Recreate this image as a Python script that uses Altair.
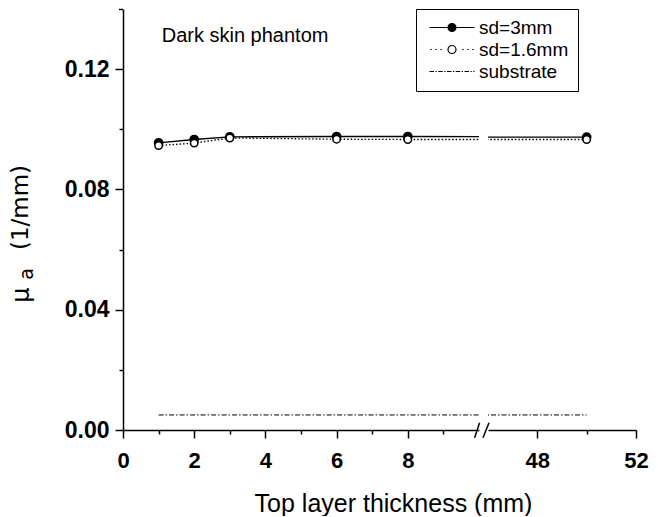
import altair as alt
import pandas as pd

# ---------------- data ----------------
thickness = [1, 2, 3, 6, 8, 50]
mua_sd3 = [0.0955, 0.0966, 0.0975, 0.0976, 0.0976, 0.0974]
mua_sd16 = [0.0946, 0.0954, 0.0971, 0.0967, 0.0966, 0.0966]
mua_substrate = [0.005, 0.005, 0.005, 0.005, 0.005, 0.005]

series_names = ["sd=3mm", "sd=1.6mm", "substrate"]

left_domain = [0, 10]
right_domain = [46, 52]
left_ticks = [0, 1, 2, 3, 4, 5, 6, 7, 8, 9]
right_ticks = [48, 50, 52]
y_ticks = [0.0, 0.02, 0.04, 0.06, 0.08, 0.10, 0.12]
y_domain = [0, 0.14]

x_title = "Top layer thickness (mm)"
annotation = "Dark skin phantom"

FONT = "Liberation Sans"
H = 421
W_LEFT = 356
W_RIGHT = 148

df = pd.DataFrame({"x": thickness, "sd3": mua_sd3, "sd16": mua_sd16, "sub": mua_substrate})
one = pd.DataFrame({"k": [0]})
legend_df = pd.DataFrame({"series": series_names, "x": [0, 0, 0], "v": [0, 0, 0]})

# legend symbols (unit = 5 px with symbolSize 100)
circle = "M4.3,0A0.8,0.8,0,1,1,2.7,0A0.8,0.8,0,1,1,4.3,0Z"
p_sd3 = "M-1,0H2.7M4.3,0H8" + circle
p_sd16 = "M-0.85,0H-0.55M0.15,0H0.45M1.15,0H1.45M5.55,0H5.85M6.55,0H6.85M7.55,0H7.85" + circle
p_sub = ""
pos = -1.0
while pos < 8:
    p_sub += "M%.2f,0H%.2f" % (pos, min(pos + 0.9, 8))
    dot = pos + 1.2
    if dot < 8:
        p_sub += "M%.2f,0H%.2f" % (dot, dot + 0.25)
    pos += 1.75

y_scale = alt.Scale(domain=y_domain, nice=False, zero=True)

common_axis = dict(
    domainColor="black", domainWidth=1.5, tickColor="black", tickWidth=1.5,
    labelFont=FONT, labelFontWeight="bold", labelColor="black", grid=False,
    labelFlush=False, labelOverlap=False,
)

y_axis = alt.Axis(
    values=y_ticks, format=".2f",
    labelExpr="round(datum.value*100) % 4 == 0 ? datum.label : ''",
    tickSize={"condition": {"test": "round(datum.value*100) % 4 == 0", "value": 8}, "value": 4},
    labelFontSize=23, labelPadding=6, title=None, **common_axis,
)

x_axis_left = alt.Axis(
    values=left_ticks,
    labelExpr="datum.value % 2 == 0 ? datum.label : ''",
    tickSize={"condition": {"test": "datum.value % 2 == 0", "value": 8}, "value": 4},
    labelFontSize=22, labelPadding=12,
    title=x_title, titleX=270, titleY=81, titleBaseline="alphabetic", titleAlign="center",
    titleFont=FONT, titleFontSize=25, titleFontWeight="normal", titleColor="black",
    **common_axis,
)

x_axis_right = alt.Axis(
    values=right_ticks,
    labelExpr="datum.value % 4 == 0 ? datum.label : ''",
    tickSize={"condition": {"test": "datum.value % 4 == 0", "value": 8}, "value": 4},
    labelFontSize=22, labelPadding=12, title=None,
    **common_axis,
)


def data_layers(xdomain, xaxis, yaxis):
    xs = alt.X("x:Q", scale=alt.Scale(domain=xdomain, nice=False, zero=False), axis=xaxis)
    base = alt.Chart(df)
    sub = base.mark_line(color="black", strokeWidth=1, strokeDash=[5, 2, 1.5, 2], clip=True).encode(
        x=xs, y=alt.Y("sub:Q", scale=y_scale, axis=yaxis))
    l3 = base.mark_line(color="black", strokeWidth=1.3, clip=True).encode(
        x=xs, y=alt.Y("sd3:Q", scale=y_scale, axis=yaxis))
    l16 = base.mark_line(color="black", strokeWidth=1.3, strokeDash=[1.5, 2], clip=True).encode(
        x=xs, y=alt.Y("sd16:Q", scale=y_scale, axis=yaxis))
    p3 = base.mark_point(shape="circle", filled=True, fill="black", stroke="black", size=60,
                         opacity=1, clip=True).encode(
        x=xs, y=alt.Y("sd3:Q", scale=y_scale, axis=yaxis))
    p16 = base.mark_point(shape="circle", filled=True, fill="white", stroke="black", strokeWidth=1.5,
                          size=55, opacity=1, clip=True).encode(
        x=xs, y=alt.Y("sd16:Q", scale=y_scale, axis=yaxis))
    return [sub, l3, l16, p3, p16]


leg = alt.Legend(
    title=None, orient="none", legendX=293, legendY=0,
    labelFont=FONT, labelFontSize=19, labelColor="black", labelOffset=35,
    symbolSize=100, symbolStrokeColor="black", symbolStrokeWidth=1.2, symbolOpacity=1,
    padding=9, rowPadding=2, strokeColor="black", fillColor="white",
)

legend_layer = alt.Chart(legend_df).transform_filter("false").mark_point(
    opacity=1, strokeWidth=1.2).encode(
    x=alt.X("x:Q", scale=alt.Scale(domain=left_domain, nice=False, zero=False), axis=x_axis_left),
    y=alt.Y("v:Q", scale=y_scale, axis=y_axis),
    shape=alt.Shape("series:N", scale=alt.Scale(domain=series_names, range=[p_sd3, p_sd16, p_sub]), legend=leg),
    fill=alt.Fill("series:N", scale=alt.Scale(domain=series_names, range=["black", "white", "black"]), legend=leg),
    stroke=alt.Stroke("series:N", scale=alt.Scale(domain=series_names, range=["black", "black", "black"]), legend=leg),
)

txt = alt.Chart(one)
note = txt.mark_text(text=annotation, font=FONT, fontSize=20, align="left", baseline="alphabetic",
                     color="black").encode(x=alt.value(38.7), y=alt.value(32.7))
mu = txt.mark_text(text="μ", font="DejaVu Sans", fontSize=24, angle=270, align="center",
                   baseline="alphabetic", color="black").encode(x=alt.value(-94), y=alt.value(286))
mu_sub = txt.mark_text(text="a", font="DejaVu Sans", fontSize=19, angle=270, align="center",
                       baseline="alphabetic", color="black").encode(x=alt.value(-90), y=alt.value(265))
unit = txt.mark_text(text="(1/mm)", font="DejaVu Sans", fontSize=23, angle=270, align="center",
                     baseline="alphabetic", color="black").encode(x=alt.value(-95), y=alt.value(198.5))
top_tick = txt.mark_rule(color="black", strokeWidth=1.5).encode(
    x=alt.value(-4), x2=alt.value(0), y=alt.value(0.5))

left = alt.layer(*data_layers(left_domain, x_axis_left, y_axis), legend_layer, note, mu, mu_sub, unit,
                 top_tick).properties(width=W_LEFT, height=H)

brk1 = alt.Chart(one).mark_rule(color="black", strokeWidth=1.5).encode(
    x=alt.value(-13.4), x2=alt.value(-8.4), y=alt.value(H + 7.7), y2=alt.value(H - 7.3))
brk2 = alt.Chart(one).mark_rule(color="black", strokeWidth=1.5).encode(
    x=alt.value(-5), x2=alt.value(1), y=alt.value(H + 7.7), y2=alt.value(H - 7.3))

right = alt.layer(*data_layers(right_domain, x_axis_right, None), brk1, brk2).properties(
    width=W_RIGHT, height=H)

chart = alt.hconcat(left, right, spacing=9, bounds="flush").resolve_scale(
    x="independent", y="shared").properties(
    padding={"left": 2, "top": 0, "right": 0, "bottom": 0},
    background="white",
).configure_view(strokeWidth=0)

chart.save("out.html", embed_options={"renderer": "svg", "actions": False})
